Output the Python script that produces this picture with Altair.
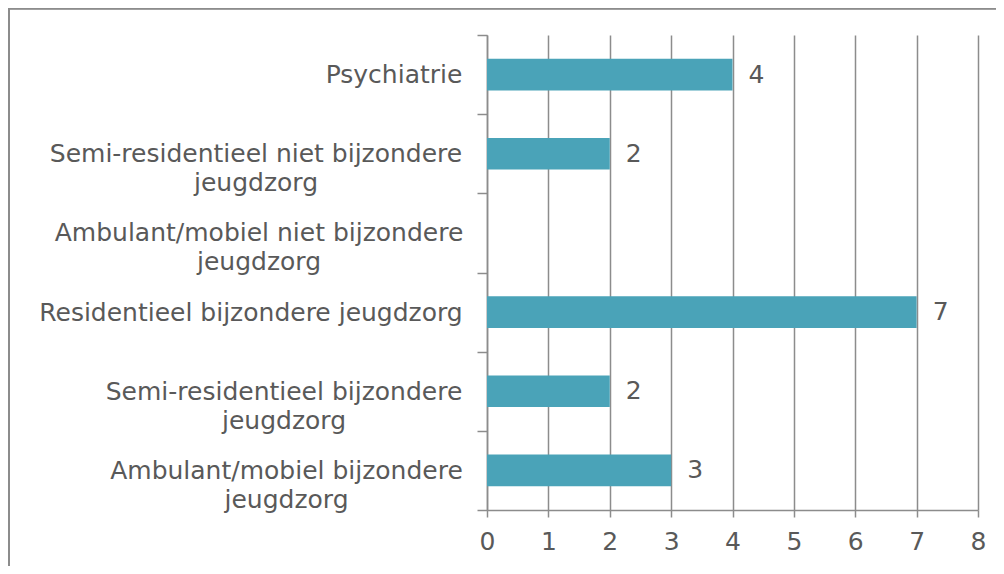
import json
import altair as alt
import pandas as pd

categories = [
    "Psychiatrie",
    "Semi-residentieel niet bijzondere\njeugdzorg",
    "Ambulant/mobiel niet bijzondere\njeugdzorg",
    "Residentieel bijzondere jeugdzorg",
    "Semi-residentieel bijzondere\njeugdzorg",
    "Ambulant/mobiel bijzondere\njeugdzorg",
]
values = [4, 2, None, 7, 2, 3]
x_ticks = [0, 1, 2, 3, 4, 5, 6, 7, 8]
# approximate widest-line width of each category label (px), used to centre the lines
label_widths = [137, 413, 407, 423, 357, 352]

df = pd.DataFrame({"cat": categories, "val": values})

FONT = "DejaVu Sans"
FS = 25
TXT = "#595959"
GRID = "#8c8c8c"
BAR = "#4aa3b8"
W, H = 491, 475
GAP = 15

pad_cond = {
    "condition": [
        {"test": f"datum.value === {json.dumps(c)}", "value": GAP + w / 2}
        for c, w in zip(categories, label_widths)
    ],
    "value": GAP,
}

y_enc = alt.Y(
    "cat:N",
    sort=categories,
    title=None,
    scale=alt.Scale(paddingInner=0, paddingOuter=0),
    axis=alt.Axis(
        labelExpr="split(datum.label, '\\n')",
        labelFont=FONT,
        labelFontSize=FS,
        labelColor=TXT,
        labelAlign="center",
        labelPadding=pad_cond,
        labelLineHeight=29,
        labelLimit=600,
        tickBand="extent",
        tickSize=10,
        tickColor=GRID,
        tickWidth=1.5,
        domainColor=GRID,
        domainWidth=1.5,
        grid=False,
    ),
)

x_enc = alt.X(
    "val:Q",
    title=None,
    scale=alt.Scale(domain=[0, 8], nice=False),
    axis=alt.Axis(
        values=x_ticks,
        format="d",
        labelFont=FONT,
        labelFontSize=FS,
        labelColor=TXT,
        labelPadding=12,
        labelFlush=False,
        tickSize=7,
        tickColor=GRID,
        tickWidth=1.5,
        domainColor=GRID,
        domainWidth=1.5,
        gridColor=GRID,
        gridWidth=1.5,
    ),
)

bars = alt.Chart(df).mark_bar(color=BAR, height=alt.RelativeBandSize(0.4)).encode(
    x=x_enc, y=y_enc
)

labels = alt.Chart(df).mark_text(
    align="left", baseline="middle", dx=16, font=FONT, fontSize=FS, color=TXT
).encode(x="val:Q", y=alt.Y("cat:N", sort=categories), text="val:Q")

frame_left = alt.Chart(df).mark_rule(color=GRID, strokeWidth=2).encode(
    x=alt.value(-478), y=alt.value(-27), y2=alt.value(H + 60)
)
frame_top = alt.Chart(df).mark_rule(color=GRID, strokeWidth=1.5).encode(
    x=alt.value(-479), x2=alt.value(W + 30), y=alt.value(-26.5)
)

chart = (
    alt.layer(bars, labels, frame_left, frame_top)
    .properties(
        width=W,
        height=H,
        autosize=alt.AutoSizeParams(type="none"),
        padding={"left": 479, "top": 27, "right": 18, "bottom": 56},
    )
    .configure_view(stroke=None)
)

chart.save("out.html", embed_options={"renderer": "svg", "actions": False})
